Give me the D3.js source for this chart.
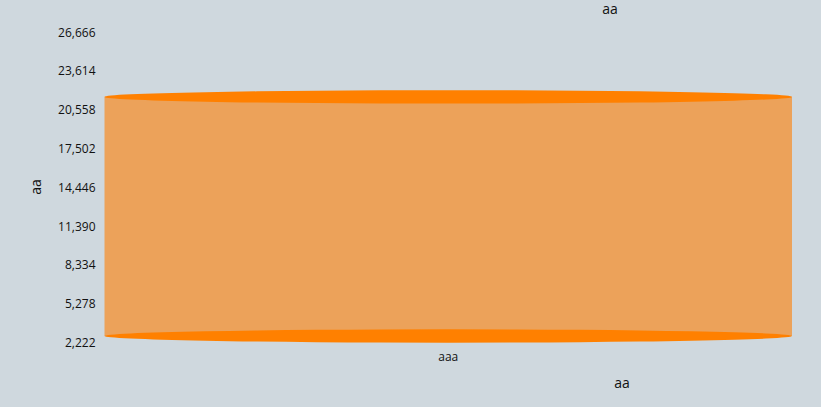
<!DOCTYPE html>
<html><head><meta charset="utf-8">
<script src="https://cdn.jsdelivr.net/npm/d3@7/dist/d3.min.js"></script>
<style>
html,body{margin:0;padding:0;background:#cfd8de;}
svg{display:block;font-family:"Open Sans",sans-serif;}
</style></head>
<body>
<script>
const categories = ["aaa"];
const values = [21050];
const yTicks = [2222, 5278, 8334, 11390, 14446, 17502, 20558, 23614, 26666];
const chartTitle = "aa";
const xTitle = "aa";
const yTitle = "aa";

const W = 821, H = 407;
const svg = d3.select("body").append("svg").attr("width", W).attr("height", H);
svg.append("rect").attr("width", W).attr("height", H).attr("fill", "#cfd8de");

const y = d3.scaleLinear().domain([2222, 26666]).range([342.7, 32.3]);
const x = d3.scaleBand().domain(categories).range([104.5, 792]).padding(0);
const ry = 6.7;

// y tick labels
const yAxis = d3.axisLeft(y).tickValues(yTicks).tickSize(0).tickPadding(0)
  .tickFormat(d3.format(","));
const gy = svg.append("g").attr("transform", "translate(95.5,0)").call(yAxis);
gy.select(".domain").remove();
gy.selectAll("text").attr("font-size", 12).attr("fill", "#111").attr("font-family", "Open Sans, sans-serif");

// x labels
const xAxis = d3.axisBottom(x).tickSize(0).tickPadding(0);
const gx = svg.append("g").attr("transform", "translate(0,352.5)").call(xAxis);
gx.select(".domain").remove();
gx.selectAll("text").attr("font-size", 12).attr("fill", "#111").attr("font-family", "Open Sans, sans-serif");

// cylinders
const bars = svg.append("g");
categories.forEach((c, i) => {
  const x0 = x(c), bw = x.bandwidth(), cx = x0 + bw / 2, rx = bw / 2;
  const yTop = y(values[i]) - ry, yBot = y(2222) - ry;
  bars.append("rect").attr("x", x0).attr("y", yTop).attr("width", bw)
    .attr("height", yBot - yTop).attr("fill", "#eca25a");
  bars.append("ellipse").attr("cx", cx).attr("cy", yBot).attr("rx", rx).attr("ry", ry)
    .attr("fill", "#ff8000");
  bars.append("ellipse").attr("cx", cx).attr("cy", yTop).attr("rx", rx).attr("ry", ry)
    .attr("fill", "#ff8000");
});

// titles
svg.append("text").attr("x", 610).attr("y", 9).attr("dy", "0.35em").attr("text-anchor", "middle")
  .attr("font-size", 14).attr("fill", "#111").text(chartTitle);
svg.append("text").attr("x", 622).attr("y", 383).attr("dy", "0.35em").attr("text-anchor", "middle")
  .attr("font-size", 14).attr("fill", "#111").text(xTitle);
svg.append("text").attr("transform", "translate(36,187) rotate(-90)").attr("dy", "0.35em")
  .attr("text-anchor", "middle").attr("font-size", 14).attr("fill", "#111").text(yTitle);
</script>
</body></html>
